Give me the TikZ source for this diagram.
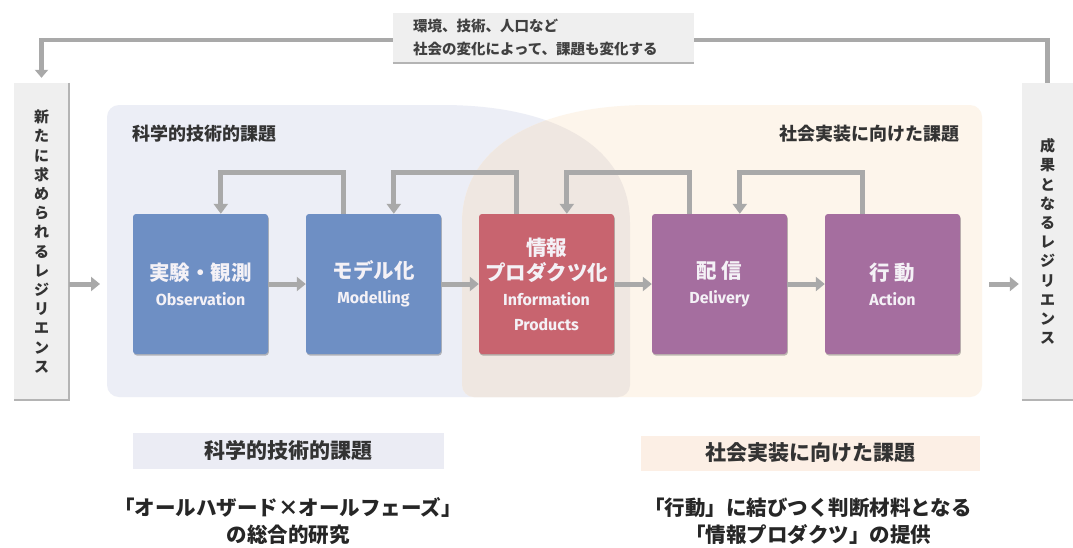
\documentclass[tikz,border=0pt]{standalone}
\usepackage{fontspec}
\setmainfont{Noto Sans CJK JP}
\newfontfamily\enfont{Fira Sans}
\usetikzlibrary{arrows.meta,calc,shadows}
\definecolor{regblue}{HTML}{ECEEF6}
\definecolor{regorange}{HTML}{FDF5EB}
\definecolor{regover}{HTML}{EFE7E1}
\definecolor{boxblue}{HTML}{6E8FC4}
\definecolor{boxred}{HTML}{C8646F}
\definecolor{boxpurple}{HTML}{A56E9F}
\definecolor{arrowgray}{HTML}{A9A9A9}
\definecolor{sidegray}{HTML}{EFEFEF}
\definecolor{shadegray}{HTML}{B4B4B4}
\definecolor{textdark}{HTML}{333333}
\definecolor{bandblue}{HTML}{EBECF4}
\definecolor{bandorange}{HTML}{FCEFE5}
\definecolor{boxtext}{HTML}{F4F1F6}
\tikzset{
  pbox/.style={rectangle, rounded corners=3pt, minimum width=135pt, minimum height=140pt,
    inner sep=0pt, align=center, text=boxtext, font=\fontsize{20.5}{25}\selectfont\bfseries,
    drop shadow={shadow xshift=0.8pt, shadow yshift=-1.5pt, opacity=0.25, fill=black}},
  flow/.style={draw=arrowgray, line width=5pt, -{Triangle[length=9pt,width=14pt]}},
  sidebox/.style={rectangle, fill=sidegray, inner sep=0pt, align=center,
    text=textdark, font=\fontsize{15}{19.2}\selectfont\bfseries},
  shadeline/.style={draw=shadegray, line width=2pt},
  reglabel/.style={text=textdark, font=\fontsize{18}{20}\selectfont\bfseries, inner sep=0pt},
  band/.style={rectangle, inner sep=0pt, text=textdark, font=\fontsize{21}{24}\selectfont\bfseries},
  bottomtext/.style={align=center, text=black!85, font=\fontsize{20.5}{27}\selectfont\bfseries, inner sep=0pt}
}
\newcommand{\jt}[1]{{\fontsize{20.5}{25}\selectfont #1}}
\newcommand{\et}[1]{{\enfont\fontsize{16}{20}\selectfont #1}}
\begin{document}
\begin{tikzpicture}[x=1pt,y=-1pt]
\useasboundingbox (0,0) rectangle (1073,547);
\fill[white] (0,0) rectangle (1073,547);
% regions
\fill[regblue, rounded corners=12pt] (430,105) .. controls (560,105) and (630,150) .. (630,235) -- (630,397) -- (107,397) -- (107,105) -- cycle;
\fill[regorange, rounded corners=12pt] (462,235) .. controls (462,150) and (532,105) .. (662,105) -- (982,105) -- (982,397) -- (462,397) -- cycle;
\begin{scope}
\clip[rounded corners=12pt] (430,105) .. controls (560,105) and (630,150) .. (630,235) -- (630,397) -- (107,397) -- (107,105) -- cycle;
\fill[regover, rounded corners=12pt] (462,235) .. controls (462,150) and (532,105) .. (662,105) -- (982,105) -- (982,397) -- (462,397) -- cycle;
\end{scope}
\node[reglabel, anchor=west] (scilabel) at (132,134) {科学的技術的課題};
\node[reglabel, anchor=east] (soclabel) at (960,134) {社会実装に向けた課題};
% side boxes
\node[sidebox, minimum width=55pt, minimum height=317pt] (newres) at (41.5,241.5)
  {新\\た\\に\\求\\め\\ら\\れ\\る\\レ\\ジ\\リ\\エ\\ン\\ス};
\draw[shadeline] (newres.north east) -- (newres.south east) -- (newres.south west);
\node[sidebox, minimum width=51pt, minimum height=317pt] (resout) at (1047.5,241.5)
  {成\\果\\と\\な\\る\\レ\\ジ\\リ\\エ\\ン\\ス};
\draw[shadeline] (resout.south west) -- (resout.south east);
% top feedback
\draw[draw=arrowgray, line width=4.5pt, -{Triangle[length=8pt,width=13pt]}, shorten >=5pt]
  (resout.north) -- ++(0,-43) -| (newres.north);
\node[rectangle, fill=sidegray, minimum width=301pt, minimum height=50pt, text width=261pt,
  inner xsep=20pt, inner ysep=0pt, align=left, text=black!75,
  font=\fontsize{14.5}{23}\selectfont\bfseries] (note) at (543.5,38)
  {環境、技術、人口など\\社会の変化によって、課題も変化する};
\draw[shadeline] (note.south west) -- (note.south east);
% process boxes
\node[pbox, fill=boxblue] (obs) at (200.5,284) {\jt{実験・観測}\\\et{Observation}};
\node[pbox, fill=boxblue] (mod) at (373.5,284) {\jt{モデル化}\\\et{Modelling}};
\node[pbox, fill=boxred] (info) at (546.5,284) {\jt{情報}\\\jt{プロダクツ化}\\\et{Information}\\\et{Products}};
\node[pbox, fill=boxpurple] (del) at (719.5,284) {\jt{配 信}\\\et{Delivery}};
\node[pbox, fill=boxpurple] (act) at (892.5,284) {\jt{行 動}\\\et{Action}};
% flow arrows
\coordinate (inend) at (100,284);
\coordinate (outstart) at (989,284);
\draw[flow] (newres.east |- inend) -- (inend);
\draw[flow] (obs.east) -- (mod.west);
\draw[flow] (mod.east) -- (info.west);
\draw[flow] (info.east) -- (del.west);
\draw[flow] (del.east) -- (act.west);
\draw[flow, shorten >=3pt] (outstart) -- (resout.west |- outstart);
% feedback loops
\draw[flow, -{Triangle[length=10pt,width=14pt]}] ($(mod.north west)+(38,0)$) -- ++(0,-41) -| ($(obs.north west)+(88,0)$);
\draw[flow, -{Triangle[length=10pt,width=14pt]}] ($(info.north west)+(38,0)$) -- ++(0,-41) -| ($(mod.north west)+(88,0)$);
\draw[flow, -{Triangle[length=10pt,width=14pt]}] ($(del.north west)+(38,0)$) -- ++(0,-41) -| ($(info.north west)+(88,0)$);
\draw[flow, -{Triangle[length=10pt,width=14pt]}] ($(act.north west)+(38,0)$) -- ++(0,-41) -| ($(del.north west)+(88,0)$);
% bottom bands
\node[band, fill=bandblue, minimum width=311pt, minimum height=36pt] (sciband) at (288,451) {科学的技術的課題};
\node[band, fill=bandorange, minimum width=339pt, minimum height=35pt] (socband) at (810,453) {社会実装に向けた課題};
\node[bottomtext] (scitext) at (288,521.5) {「オールハザード×オールフェーズ」\\の総合的研究};
\node[bottomtext] (soctext) at (808,521.5) {「行動」に結びつく判断材料となる\\「情報プロダクツ」の提供};
\end{tikzpicture}
\end{document}
